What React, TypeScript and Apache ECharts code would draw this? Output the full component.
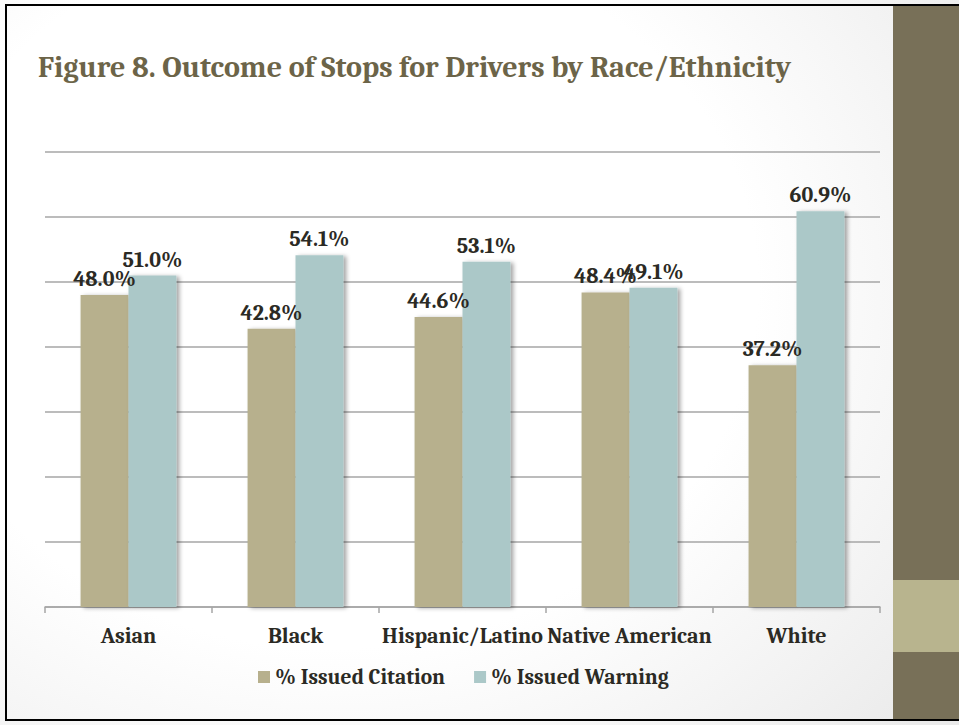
import React, { useEffect, useRef } from "react";
import * as echarts from "echarts";

const categories = ["Asian", "Black", "Hispanic/Latino", "Native American", "White"];
const citation = [48.0, 42.8, 44.6, 48.4, 37.2];
const warning = [51.0, 54.1, 53.1, 49.1, 60.9];
const seriesNames = ["% Issued Citation", "% Issued Warning"];
const titleText = "Figure 8. Outcome of Stops for Drivers by Race/Ethnicity";

const SERIF = "Cambria, 'DejaVu Serif', 'Liberation Serif', serif";

export default function App() {
  const ref = useRef<HTMLDivElement>(null);
  useEffect(() => {
    if (!ref.current) return;
    const chart = echarts.init(ref.current, null, { renderer: "svg" });
    const labelStyle = {
      show: true,
      position: "top" as const,
      distance: 5,
      formatter: (p: any) => p.value.toFixed(1) + "%",
      fontFamily: SERIF,
      fontWeight: "bold" as const,
      fontSize: 22,
      color: "#2b2a24",
    };
    const shadow = {
      shadowColor: "rgba(0,0,0,0.35)",
      shadowBlur: 4,
      shadowOffsetX: 3,
      shadowOffsetY: 1,
    };
    chart.setOption({
      animation: false,
      backgroundColor: "transparent",
      graphic: [
        {
          type: "text",
          left: 38,
          top: 52,
          scaleX: 0.97,
          style: {
            text: titleText,
            fontFamily: SERIF,
            fontWeight: "bold",
            fontSize: 31,
            fill: "#6c6448",
          },
        },
        {
          type: "rect",
          shape: { x: 893, y: 5, width: 66, height: 716 },
          style: { fill: "#787058" },
          silent: true,
        },
        {
          type: "rect",
          shape: { x: 893, y: 580, width: 66, height: 72 },
          style: { fill: "#b8b48e" },
          silent: true,
        },
        {
          type: "line",
          shape: { x1: 6, y1: 5, x2: 959, y2: 5 },
          style: { stroke: "#000", lineWidth: 2 },
          silent: true,
        },
        {
          type: "line",
          shape: { x1: 6, y1: 720, x2: 959, y2: 720 },
          style: { stroke: "#000", lineWidth: 2 },
          silent: true,
        },
        {
          type: "line",
          shape: { x1: 6, y1: 4, x2: 6, y2: 721 },
          style: { stroke: "#000", lineWidth: 2 },
          silent: true,
        },
      ],
      legend: {
        bottom: 32,
        left: 253,
        itemWidth: 12,
        itemHeight: 12,
        itemGap: 29,
        icon: "rect",
        textStyle: {
          fontFamily: SERIF,
          fontWeight: "bold",
          fontSize: 21.5,
          color: "#2b2a24",
        },
        data: seriesNames,
      },
      grid: { left: 45, right: 79, top: 152, bottom: 118 },
      xAxis: {
        type: "category",
        data: categories,
        axisLine: { lineStyle: { color: "#a6a6a6", width: 1.5 } },
        axisTick: { show: true, length: 6, lineStyle: { color: "#a6a6a6", width: 1.5 } },
        axisLabel: {
          margin: 18,
          fontFamily: SERIF,
          fontWeight: "bold",
          fontSize: 22,
          color: "#2b2a24",
          interval: 0,
        },
      },
      yAxis: {
        type: "value",
        min: 0,
        max: 70,
        interval: 10,
        axisLabel: { show: false },
        axisLine: { show: false },
        axisTick: { show: false },
        splitLine: { lineStyle: { color: "#a6a6a6", width: 1.5 } },
      },
      series: [
        {
          name: seriesNames[0],
          type: "bar",
          data: citation,
          barWidth: "28.7%",
          barGap: "0%",
          itemStyle: { color: "#b7b08d", ...shadow },
          label: labelStyle,
        },
        {
          name: seriesNames[1],
          type: "bar",
          data: warning,
          barWidth: "28.7%",
          barGap: "0%",
          itemStyle: { color: "#abc8c8", ...shadow },
          label: labelStyle,
        },
      ],
    });
    return () => chart.dispose();
  }, []);
  return (
    <div
      style={{
        position: "absolute",
        left: 0,
        top: 0,
        width: 959,
        height: 725,
        background:
          "radial-gradient(ellipse 80% 90% at 35% 40%, #ffffff 55%, #ebebeb 100%)",
      }}
    >
      <div ref={ref} style={{ width: 959, height: 725 }} />
    </div>
  );
}
